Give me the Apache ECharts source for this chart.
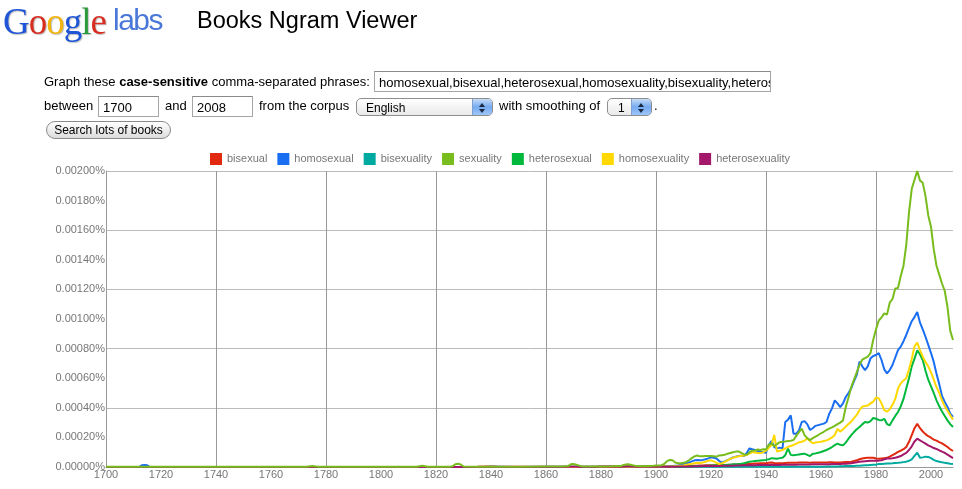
<!DOCTYPE html>
<html>
<head>
<meta charset="utf-8">
<script src="https://cdn.jsdelivr.net/npm/echarts@6/dist/echarts.min.js"></script>
<style>
  html, body { margin: 0; padding: 0; background: #fff; }
  body { width: 962px; height: 489px; position: relative; overflow: hidden;
         font-family: "Liberation Sans", Arial, sans-serif; color: #000; }
  #ngram { position: absolute; left: 0; top: 0; width: 962px; height: 489px; }
  .t { position: absolute; line-height: 1; white-space: nowrap; z-index: 2; }
  .box { position: absolute; box-sizing: border-box; border: 1px solid #a5a5a5; border-top-color: #8a8a8a;
         background: #fff; z-index: 2; overflow: hidden; }
  .sel { position: absolute; box-sizing: border-box; border: 1px solid #8e8e8e; border-radius: 5px;
         background: linear-gradient(#ffffff, #e9e9e9); z-index: 2; overflow: hidden; }
  .sel .arr { position: absolute; right: 0; top: 0; bottom: 0; width: 19px;
              background: linear-gradient(#c5dcf7, #76aaf0 50%, #9cc6f8); border-left: 1px solid #7f9fcf; }
  .sel .arr:before, .sel .arr:after { content: ""; position: absolute; left: 6px; border-left: 3px solid transparent; border-right: 3px solid transparent; }
  .sel .arr:before { top: 4px; border-bottom: 4px solid #1b2a44; }
  .sel .arr:after { top: 10px; border-top: 4px solid #1b2a44; }
  .btn { position: absolute; box-sizing: border-box; border: 1px solid #8a8a8a; border-radius: 9px;
         background: linear-gradient(#ffffff, #dcdcdc); z-index: 2; font-size: 12px; text-align: center; line-height: 16px; }
</style>
</head>
<body>
<div id="ngram"></div>

<div class="t" style="left:3px;top:3px;font-family:'Liberation Serif','DejaVu Serif',serif;font-size:37px;letter-spacing:-1px;text-shadow:1px 1px 1px rgba(0,0,0,0.25);">
  <span style="color:#1f55d6">G</span><span style="color:#d62d20">o</span><span style="color:#f2b50f">o</span><span style="color:#1f55d6">g</span><span style="color:#2b9a3b">l</span><span style="color:#d62d20">e</span>
</div>
<div class="t" style="left:113px;top:5px;font-size:30px;letter-spacing:-1.5px;color:#4a78d8;">labs</div>
<div class="t" style="left:197px;top:9px;font-size:23.5px;">Books Ngram Viewer</div>

<div class="t" style="left:44px;top:75px;font-size:13px;">Graph these <b>case-sensitive</b> comma-separated phrases:</div>
<div class="box" style="left:374px;top:71px;width:397px;height:21px;">
  <div class="t" style="left:4px;top:4px;font-size:13px;">homosexual,bisexual,heterosexual,homosexuality,bisexuality,heterosexuality,sexuality</div>
</div>

<div class="t" style="left:44px;top:99px;font-size:13px;">between</div>
<div class="box" style="left:98px;top:96px;width:61px;height:21px;">
  <div class="t" style="left:4px;top:4px;font-size:13px;">1700</div>
</div>
<div class="t" style="left:165px;top:99px;font-size:13px;">and</div>
<div class="box" style="left:192px;top:96px;width:61px;height:21px;">
  <div class="t" style="left:4px;top:4px;font-size:13px;">2008</div>
</div>
<div class="t" style="left:259px;top:99px;font-size:13px;">from the corpus</div>
<div class="sel" style="left:356px;top:98px;width:137px;height:18px;">
  <div class="t" style="left:9px;top:3px;font-size:12px;">English</div>
  <div class="arr"></div>
</div>
<div class="t" style="left:499px;top:99px;font-size:13px;">with smoothing of</div>
<div class="sel" style="left:607px;top:98px;width:45px;height:18px;">
  <div class="t" style="left:10px;top:3px;font-size:12px;">1</div>
  <div class="arr"></div>
</div>
<div class="t" style="left:654px;top:99px;font-size:13px;">.</div>

<div class="btn" style="left:46px;top:121px;width:125px;height:18px;">Search lots of books</div>

<script>
// values are in millionths of a percent (2000 = 0.00200%)
var earlyYears = [
  1700, 1710, 1712, 1713, 1714, 1715, 1716, 1720, 1740, 1760,
  1770, 1773, 1775, 1777, 1780, 1800, 1810, 1813, 1815, 1817,
  1820, 1825, 1826, 1827, 1828, 1829, 1830, 1835, 1838, 1840,
  1842, 1850, 1860, 1866, 1868, 1869, 1870, 1871, 1873, 1878,
  1880, 1884, 1887, 1888, 1889, 1890, 1891, 1893, 1896, 1899
];
var years = earlyYears.slice();
for (var y = 1900; y <= 2008; y++) years.push(y);

var names = ['bisexual', 'homosexual', 'bisexuality', 'sexuality', 'heterosexual', 'homosexuality', 'heterosexuality'];
var colors = ['#e0290f', '#1a6ef2', '#00aaa0', '#78bc1e', '#00b83c', '#ffd800', '#a3186b'];

var bisexual = [
  0, 0, 0, 0, 0, 0, 0, 0, 0, 0,
  0, 0, 0, 0, 0, 0, 0, 0, 0, 0,
  0, 0, 0, 0, 0, 0, 0, 1, 3, 4,
  3, 1, 1, 1, 2, 2, 2, 2, 2, 2,
  3, 3, 3, 4, 5, 5, 4, 3, 3, 3,
  // 1900-
  3, 3, 3, 3, 4, 4, 4, 5, 5, 5,
  6, 6, 7, 8, 8, 9, 10, 10, 11, 12,
  12, 12, 11, 11, 12, 13, 14, 15, 16, 17,
  18, 18, 19, 20, 21, 22, 23, 24, 25, 26,
  26, 28, 30, 27, 25, 26, 26, 27, 28, 28,
  29, 29, 30, 30, 31, 30, 29, 30, 30, 31,
  30, 31, 31, 32, 32, 30, 31, 30, 32, 33,
  34, 36, 40, 45, 52, 57, 61, 62, 63, 62,
  58, 56, 58, 60, 62, 70, 80, 90, 102, 110,
  120, 135, 170, 215, 262, 292, 262, 240, 222, 208,
  198, 185, 178, 168, 160, 148, 135, 120, 108
];
var homosexual = [
  0, 0, 0, 12, 14, 12, 0, 0, 0, 0,
  0, 0, 0, 0, 0, 0, 0, 0, 0, 0,
  0, 0, 0, 0, 0, 0, 0, 0, 0, 1,
  1, 0, 1, 1, 1, 1, 1, 1, 1, 1,
  1, 1, 2, 2, 2, 2, 2, 2, 3, 3,
  // 1900-
  3, 3, 4, 4, 5, 6, 6, 8, 10, 14,
  20, 25, 30, 38, 45, 47, 45, 48, 52, 58,
  65, 62, 58, 40, 30, 38, 47, 55, 65, 70,
  74, 76, 74, 95, 126, 120, 115, 108, 104, 100,
  97, 149, 176, 135, 126, 131, 126, 304, 320, 349,
  225, 225, 248, 304, 310, 290, 250, 262, 278, 283,
  288, 293, 304, 360, 396, 450, 430, 405, 430, 473,
  500, 532, 580, 622, 712, 680, 655, 680, 734, 750,
  757, 770, 723, 660, 633, 655, 689, 740, 790, 813,
  850, 892, 940, 985, 1013, 1047, 975, 930, 880, 825,
  770, 710, 630, 560, 480, 440, 406, 360, 338
];
var bisexuality = [
  0, 0, 0, 0, 0, 0, 0, 0, 0, 0,
  0, 0, 0, 0, 0, 0, 0, 0, 0, 0,
  0, 0, 0, 0, 0, 0, 0, 0, 0, 0,
  0, 0, 0, 0, 0, 0, 0, 0, 0, 0,
  0, 0, 0, 0, 0, 0, 0, 0, 0, 0,
  // 1900-
  0, 0, 0, 0, 0, 0, 0, 0, 0, 0,
  0, 0, 0, 1, 1, 1, 1, 1, 1, 1,
  1, 1, 1, 1, 1, 1, 1, 1, 1, 1,
  1, 1, 1, 1, 1, 1, 2, 2, 2, 2,
  2, 2, 2, 2, 2, 2, 2, 2, 2, 2,
  2, 2, 2, 2, 2, 2, 2, 2, 2, 2,
  2, 2, 3, 3, 3, 4, 4, 5, 5, 6,
  6, 7, 7, 8, 9, 10, 11, 12, 14, 15,
  16, 20, 21, 22, 23, 24, 25, 27, 28, 30,
  33, 36, 42, 52, 75, 97, 62, 65, 70, 68,
  60, 48, 40, 36, 32, 28, 25, 22, 20
];
var sexuality = [
  1, 1, 1, 1, 1, 1, 1, 1, 1, 1,
  1, 1, 6, 1, 1, 1, 1, 2, 9, 2,
  1, 2, 5, 18, 22, 17, 3, 2, 2, 3,
  2, 2, 3, 3, 6, 18, 20, 15, 4, 3,
  4, 5, 6, 12, 17, 18, 14, 6, 5, 8,
  // 1900-
  10, 10, 12, 20, 40, 48, 45, 30, 25, 25,
  28, 35, 45, 60, 72, 78, 72, 72, 75, 75,
  74, 72, 70, 78, 80, 82, 90, 95, 100, 104,
  105, 95, 85, 82, 100, 110, 112, 118, 115, 120,
  118, 150, 160, 140, 155, 168, 170, 172, 175, 178,
  182, 210, 235, 260, 215, 195, 182, 195, 205, 216,
  228, 238, 250, 259, 268, 278, 290, 300, 315, 405,
  470, 540, 590, 640, 690, 725, 735, 745, 770, 860,
  930, 990, 1010, 1038, 1030, 1110, 1135, 1206, 1210, 1290,
  1360, 1500, 1720, 1880, 1940, 2000, 1935, 1920, 1830, 1700,
  1624, 1470, 1360, 1300, 1240, 1190, 1080, 920, 858
];
var heterosexual = [
  0, 0, 0, 0, 0, 0, 0, 0, 0, 0,
  0, 0, 0, 0, 0, 0, 0, 0, 0, 0,
  0, 0, 0, 0, 0, 0, 0, 0, 0, 0,
  0, 0, 0, 0, 0, 0, 0, 0, 0, 0,
  0, 0, 0, 1, 1, 1, 1, 1, 1, 1,
  // 1900-
  1, 1, 1, 1, 1, 2, 2, 2, 2, 3,
  3, 4, 4, 5, 5, 6, 6, 7, 8, 9,
  10, 10, 11, 11, 12, 14, 15, 16, 18, 19,
  20, 22, 25, 30, 36, 38, 40, 42, 44, 46,
  48, 52, 60, 58, 56, 60, 62, 80, 124, 82,
  79, 82, 85, 88, 90, 82, 74, 90, 92, 96,
  101, 108, 115, 124, 135, 148, 158, 150, 146, 165,
  191, 215, 236, 255, 270, 288, 304, 300, 310, 331,
  326, 318, 315, 326, 290, 282, 315, 345, 372, 410,
  460, 530, 600, 680, 732, 788, 760, 723, 650, 590,
  545, 500, 450, 410, 375, 345, 315, 290, 270
];
var homosexuality = [
  0, 0, 0, 0, 0, 0, 0, 0, 0, 0,
  0, 0, 0, 0, 0, 0, 0, 0, 0, 0,
  0, 0, 0, 0, 0, 0, 0, 0, 0, 0,
  0, 0, 0, 0, 0, 0, 0, 0, 0, 0,
  0, 0, 1, 1, 1, 1, 1, 1, 1, 2,
  // 1900-
  2, 2, 2, 3, 3, 4, 4, 5, 6, 8,
  10, 15, 18, 22, 26, 28, 27, 30, 35, 42,
  45, 38, 28, 20, 25, 35, 45, 55, 62, 68,
  72, 75, 78, 83, 90, 101, 98, 95, 95, 100,
  110, 130, 149, 216, 104, 110, 115, 125, 137, 142,
  149, 158, 167, 170, 178, 194, 175, 160, 165, 168,
  171, 175, 180, 189, 200, 216, 257, 239, 255, 273,
  290, 307, 330, 352, 385, 408, 412, 415, 430, 442,
  470, 464, 430, 385, 374, 390, 420, 460, 530, 565,
  585, 600, 660, 730, 815, 840, 790, 745, 710, 680,
  640, 590, 540, 500, 450, 410, 380, 350, 320
];
var heterosexuality = [
  0, 0, 0, 0, 0, 0, 0, 0, 0, 0,
  0, 0, 0, 0, 0, 0, 0, 0, 0, 0,
  0, 0, 0, 0, 0, 0, 0, 0, 0, 0,
  0, 0, 0, 0, 1, 1, 1, 1, 0, 0,
  1, 1, 1, 2, 3, 4, 3, 2, 1, 1,
  // 1900-
  1, 1, 1, 1, 2, 2, 2, 2, 3, 3,
  3, 4, 4, 4, 5, 5, 5, 6, 6, 6,
  7, 7, 7, 7, 8, 8, 8, 9, 9, 10,
  10, 10, 11, 11, 12, 12, 12, 13, 13, 13,
  14, 14, 15, 14, 14, 14, 15, 15, 16, 16,
  16, 16, 17, 17, 17, 17, 17, 18, 18, 18,
  18, 19, 19, 19, 20, 20, 21, 21, 22, 22,
  24, 26, 29, 32, 35, 37, 39, 41, 42, 42,
  42, 43, 46, 52, 57, 58, 59, 62, 68, 74,
  85, 95, 115, 140, 172, 191, 180, 169, 158, 146,
  138, 128, 122, 113, 104, 95, 84, 72, 60
];

var seriesValues = [bisexual, homosexual, bisexuality, sexuality, heterosexual, homosexuality, heterosexuality];

var chartDom = document.getElementById('ngram');
var myChart = echarts.init(chartDom);

var series = names.map(function (name, i) {
  return {
    name: name,
    type: 'line',
    color: colors[i],
    showSymbol: false,
    // sexuality sits on top along the baseline, like in the original
    z: name === 'sexuality' ? 3 : 2,
    lineStyle: { width: 2 },
    data: years.map(function (yr, j) { return [yr, seriesValues[i][j]]; })
  };
});

var option = {
  animation: false,
  textStyle: { fontFamily: '"Liberation Sans", Arial, sans-serif' },
  legend: {
    data: names,
    left: 210,
    top: 153,
    padding: 0,
    icon: 'rect',
    itemWidth: 12,
    itemHeight: 12,
    itemGap: 10,
    textStyle: { color: '#777', fontSize: 11 }
  },
  grid: { left: 106, right: 9, top: 171, bottom: 22 },
  xAxis: {
    type: 'value',
    min: 1700,
    max: 2008,
    interval: 20,
    axisLine: { lineStyle: { color: '#999' } },
    axisTick: { show: false },
    axisLabel: {
      color: '#777', fontSize: 11, margin: 2, showMaxLabel: false,
      formatter: function (v) { return String(v); }
    },
    splitLine: { show: true, showMaxLine: false, lineStyle: { color: ['#999', 'rgba(0,0,0,0)'] } }
  },
  yAxis: {
    type: 'value',
    min: 0,
    max: 2000,
    interval: 200,
    axisLine: { show: true, lineStyle: { color: '#999' } },
    axisTick: { show: false },
    axisLabel: {
      color: '#777', fontSize: 11, margin: 1,
      formatter: function (v) { return (v / 1e6).toFixed(5) + '%'; }
    },
    splitLine: { lineStyle: { color: ['#bbb', 'rgba(0,0,0,0)'] } }
  },
  series: series
};

myChart.setOption(option);
</script>
</body>
</html>
